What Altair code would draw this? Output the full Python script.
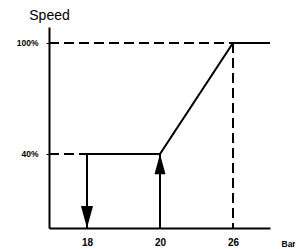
import altair as alt
import pandas as pd

# Schematic control curve: speed (%) versus pressure (bar)
x_ticks = [18, 20, 26]
y_ticks = [40, 100]
x_start, x_end = 17, 27  # schematic ends of the pressure axis

seg_x1 = [17, 26, 17, 26, 20, 18, 18, 20]
seg_y1 = [100, 100, 40, 100, 40, 40, 40, 0]
seg_x2 = [26, 26, 18, 27, 26, 20, 18, 20]
seg_y2 = [100, 0, 40, 100, 100, 40, 0, 40]
seg_style = ["dashed", "dashed", "dashed", "solid", "solid", "solid", "solid", "solid"]

arrow_x = [18, 20]
arrow_y = [0, 40]
arrow_dir = ["down", "up"]

segs = pd.DataFrame({"x": seg_x1, "y": seg_y1, "x2": seg_x2, "y2": seg_y2, "style": seg_style})
arrows = pd.DataFrame({"x": arrow_x, "y": arrow_y, "dir": arrow_dir})

xscale = alt.Scale(domain=[x_start, 18, 20, 26, x_end], range=[0, 38, 111, 184, 221])
yscale = alt.Scale(domain=[0, 108.6], nice=False, zero=False)

xaxis = alt.Axis(values=x_ticks, grid=False, ticks=False, domain=True, domainColor="black",
                 domainWidth=2, labelFont="Liberation Sans", labelFontWeight="bold",
                 labelFontSize=10, labelColor="black", labelPadding=9,
                 title="Bar", titleFont="Liberation Sans", titleFontWeight="bold",
                 titleFontSize=8.5, titleColor="black", titleAlign="left",
                 titleBaseline="alphabetic", titleX=232, titleY=18, titleAnchor="start")
yaxis = alt.Axis(values=y_ticks, grid=False, ticks=True, tickSize=3, tickColor="black",
                 domain=True, domainColor="black", domainWidth=2,
                 labelExpr="datum.value + '%'", labelFont="Liberation Sans",
                 labelFontWeight="bold", labelFontSize=8.5, labelColor="black",
                 labelPadding=8, title="Speed", titleFont="Liberation Sans",
                 titleFontWeight="normal", titleFontSize=14, titleColor="black",
                 titleAngle=0, titleAlign="center", titleBaseline="alphabetic",
                 titleX=0, titleY=-8)

lines = alt.Chart(segs).mark_rule(color="black", strokeWidth=2).encode(
    x=alt.X("x:Q", scale=xscale, axis=xaxis),
    y=alt.Y("y:Q", scale=yscale, axis=yaxis),
    x2="x2:Q",
    y2="y2:Q",
    strokeDash=alt.StrokeDash("style:N", scale=alt.Scale(domain=["solid", "dashed"],
                                                          range=[[1, 0], [10, 5]]), legend=None),
)

path_down = "M -0.55 -2 L 0.55 -2 L 0 0 Z"
path_up = "M -0.5 1.85 L 0.5 1.85 L 0 0 Z"
heads = alt.Chart(arrows).mark_point(filled=True, color="black", opacity=1, size=484,
                                     strokeWidth=0).encode(
    x=alt.X("x:Q", scale=xscale),
    y=alt.Y("y:Q", scale=yscale),
    shape=alt.Shape("dir:N", scale=alt.Scale(domain=["down", "up"], range=[path_down, path_up]),
                    legend=None),
)

chart = alt.layer(lines, heads).properties(
    width=221, height=201,
    autosize=alt.AutoSizeParams(type="none"),
    padding={"left": 41, "top": 19, "right": 25, "bottom": 21},
    background="white",
).configure_view(stroke=None)

chart.save("out.html", embed_options={"renderer": "svg", "actions": False})
